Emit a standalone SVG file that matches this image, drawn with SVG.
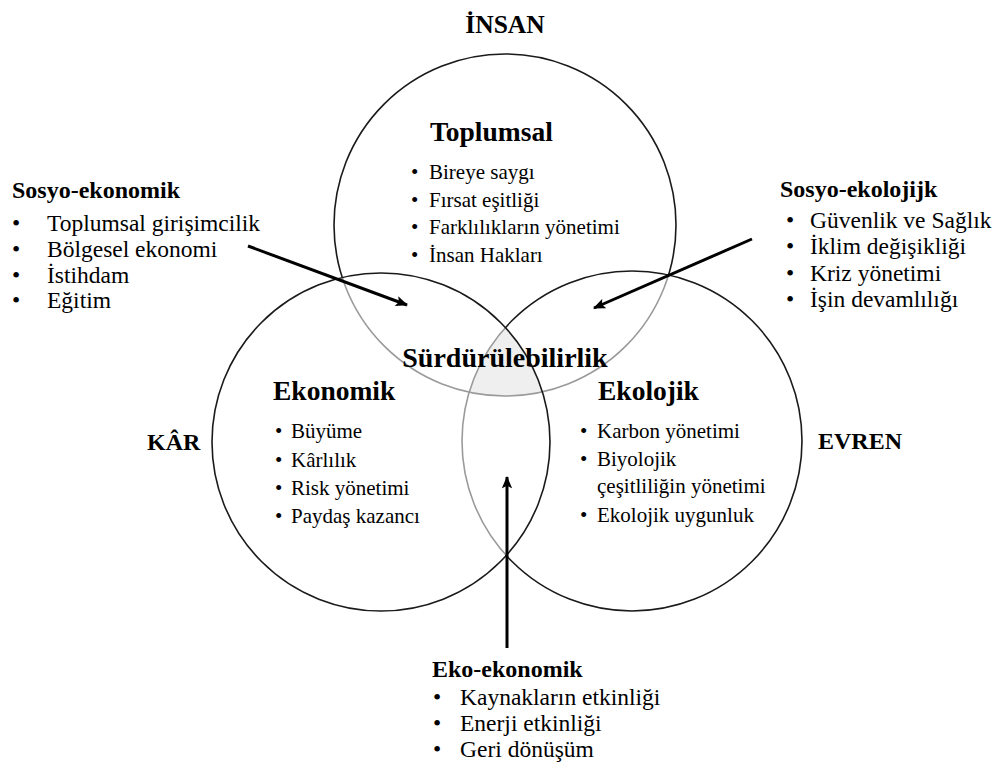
<svg xmlns="http://www.w3.org/2000/svg" width="1003" height="769" viewBox="0 0 1003 769">
  <style>
    text { font-family: "Liberation Serif", "Times New Roman", serif; fill: #000; }
    .lbl { font-size: 24px; font-weight: bold; }
    .lbl-top { font-size: 25.5px; font-weight: bold; }
    .head { font-size: 27.5px; font-weight: bold; }
    .core { font-size: 28px; font-weight: bold; }
    .item { font-size: 21px; }
    .side { font-size: 23.5px; }
    .sideh { font-size: 24px; font-weight: bold; }
    .ring { fill: none; stroke: #1a1a1a; stroke-width: 1.6; }
    .ring-faint { fill: none; stroke: #9a9a9a; stroke-width: 1.6; }
    .arrow { stroke: #000; stroke-width: 3; fill: none; marker-end: url(#head); }
  </style>
  <defs>
    <marker id="head" viewBox="0 0 12 10" refX="11" refY="5" markerWidth="4.4" markerHeight="3.4" markerUnits="strokeWidth" orient="auto">
      <path d="M0,0 L12,5 L0,10 L2.5,5 Z" fill="#000"/>
    </marker>
    <clipPath id="inTop"><circle cx="505" cy="225" r="171"/></clipPath>
    <clipPath id="inLeft"><circle cx="381" cy="442" r="169"/></clipPath>
    <clipPath id="inRight"><circle cx="632" cy="441" r="170"/></clipPath>
    <clipPath id="inLR">
      <circle cx="381" cy="442" r="169"/>
      <circle cx="632" cy="441" r="170"/>
    </clipPath>
    <mask id="outLR" maskUnits="userSpaceOnUse" x="0" y="0" width="1003" height="769">
      <rect width="1003" height="769" fill="#fff"/>
      <circle cx="381" cy="442" r="169" fill="#000"/>
      <circle cx="632" cy="441" r="170" fill="#000"/>
    </mask>
    <mask id="outL" maskUnits="userSpaceOnUse" x="0" y="0" width="1003" height="769">
      <rect width="1003" height="769" fill="#fff"/>
      <circle cx="381" cy="442" r="169" fill="#000"/>
    </mask>
  </defs>

  <rect width="1003" height="769" fill="#fff"/>

  <!-- shared core of the three circles -->
  <g id="core-area" clip-path="url(#inTop)">
    <g clip-path="url(#inLeft)">
      <g clip-path="url(#inRight)">
        <rect x="300" y="200" width="400" height="300" fill="#efefef"/>
      </g>
    </g>
  </g>

  <!-- Toplumsal circle -->
  <g id="node-toplumsal">
    <circle class="ring" cx="505" cy="225" r="171" mask="url(#outLR)"/>
    <circle class="ring-faint" cx="505" cy="225" r="171" clip-path="url(#inLR)"/>
    <text class="head" x="430" y="141">Toplumsal</text>
    <g class="item">
      <text x="411" y="179">•</text><text x="429" y="179">Bireye saygı</text>
      <text x="411" y="207">•</text><text x="429" y="207">Fırsat eşitliği</text>
      <text x="411" y="234">•</text><text x="429" y="234">Farklılıkların yönetimi</text>
      <text x="411" y="262">•</text><text x="429" y="262">İnsan Hakları</text>
    </g>
  </g>

  <!-- Ekolojik circle -->
  <g id="node-ekolojik">
    <circle class="ring" cx="632" cy="441" r="170" mask="url(#outL)"/>
    <circle class="ring-faint" cx="632" cy="441" r="170" clip-path="url(#inLeft)"/>
    <text class="head" x="598" y="400">Ekolojik</text>
    <g class="item">
      <text x="580" y="438">•</text><text x="597" y="438">Karbon yönetimi</text>
      <text x="580" y="466">•</text><text x="597" y="466">Biyolojik</text>
      <text x="597" y="493">çeşitliliğin yönetimi</text>
      <text x="580" y="522">•</text><text x="597" y="522">Ekolojik uygunluk</text>
    </g>
  </g>

  <!-- Ekonomik circle -->
  <g id="node-ekonomik">
    <circle class="ring" cx="381" cy="442" r="169"/>
    <text class="head" x="273" y="400">Ekonomik</text>
    <g class="item">
      <text x="275" y="438">•</text><text x="291" y="438">Büyüme</text>
      <text x="275" y="467">•</text><text x="291" y="467">Kârlılık</text>
      <text x="275" y="495">•</text><text x="291" y="495">Risk yönetimi</text>
      <text x="275" y="523">•</text><text x="291" y="523">Paydaş kazancı</text>
    </g>
  </g>

  <g id="node-core">
    <text class="core" x="505" y="367" text-anchor="middle">Sürdürülebilirlik</text>
  </g>

  <!-- pillar labels -->
  <g id="node-insan"><text class="lbl-top" x="505" y="33" text-anchor="middle">İNSAN</text></g>
  <g id="node-kar"><text class="lbl" x="147" y="450">KÂR</text></g>
  <g id="node-evren"><text class="lbl" x="818" y="449">EVREN</text></g>

  <!-- overlap notes -->
  <g id="node-sosyo-ekonomik">
    <text class="sideh" x="12" y="198">Sosyo-ekonomik</text>
    <g class="side">
      <text x="12" y="231">•</text><text x="47" y="231">Toplumsal girişimcilik</text>
      <text x="12" y="257">•</text><text x="47" y="257">Bölgesel ekonomi</text>
      <text x="12" y="283">•</text><text x="47" y="283">İstihdam</text>
      <text x="12" y="308">•</text><text x="47" y="308">Eğitim</text>
    </g>
  </g>

  <g id="node-sosyo-ekolojik">
    <text class="sideh" x="780" y="197">Sosyo-ekolojijk</text>
    <g class="side">
      <text x="786" y="228">•</text><text x="810" y="228">Güvenlik ve Sağlık</text>
      <text x="786" y="254">•</text><text x="810" y="254">İklim değişikliği</text>
      <text x="786" y="281">•</text><text x="810" y="281">Kriz yönetimi</text>
      <text x="786" y="307">•</text><text x="810" y="307">İşin devamlılığı</text>
    </g>
  </g>

  <g id="node-eko-ekonomik">
    <text class="sideh" x="432" y="677">Eko-ekonomik</text>
    <g class="side">
      <text x="433" y="705">•</text><text x="460" y="705">Kaynakların etkinliği</text>
      <text x="433" y="731">•</text><text x="460" y="731">Enerji etkinliği</text>
      <text x="433" y="757">•</text><text x="460" y="757">Geri dönüşüm</text>
    </g>
  </g>

  <!-- connectors -->
  <g id="connectors">
    <line class="arrow" x1="248" y1="246" x2="407" y2="305"/>
    <line class="arrow" x1="752" y1="239" x2="594" y2="308"/>
    <line class="arrow" x1="507" y1="648" x2="507" y2="477"/>
  </g>
</svg>
